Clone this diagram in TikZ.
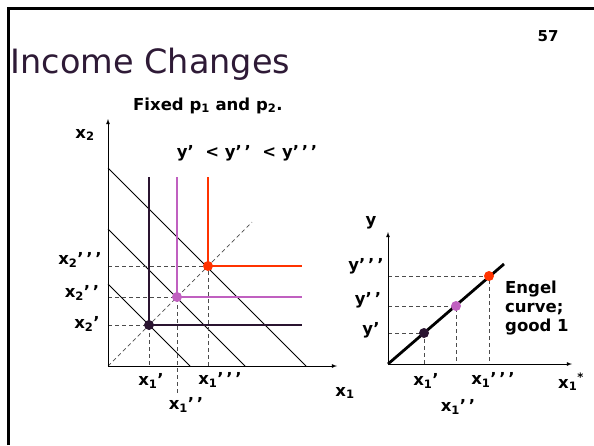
\documentclass[tikz,border=0pt]{standalone}
\usepackage{fontspec}
\setmainfont{DejaVu Sans}
\usetikzlibrary{positioning}
\usepackage{xcolor}
\definecolor{cdark}{HTML}{2A1430}
\definecolor{cpurple}{HTML}{C060C0}
\definecolor{cred}{HTML}{FF3300}
\definecolor{ctitle}{HTML}{2E1A36}

\begin{document}
\begin{tikzpicture}[x=1pt, y=-1pt, >=latex,
  font=\bfseries\fontsize{16.5}{18}\selectfont,
  axis/.style={->, line width=0.8pt},
  budget/.style={line width=0.8pt},
  guide/.style={line width=0.7pt, gray!60!black, dash pattern=on 4pt off 3pt},
  arm/.style={line width=2pt},
  dot/.style={circle, fill, inner sep=0pt, minimum size=10pt},
  lbl/.style={inner sep=0pt}]

\useasboundingbox (0,0) rectangle (594,445);
\draw[line width=3pt] (8,445) -- (8,8) -- (594,8);

\node[anchor=base west, text=ctitle, font=\mdseries\fontsize{33.5}{36}\selectfont] (title) at (7,73) {Income Changes};
\node[lbl, font=\bfseries\fontsize{15}{17}\selectfont] (page) at (548,36) {57};
\node[lbl, anchor=base west] (fixed) at (133,110) {Fixed p\textsubscript{1} and p\textsubscript{2}.};

% left panel: budget lines and demands
\coordinate (o) at (108,366);
\coordinate (ytop) at (108,119);
\coordinate (xend) at (337,366);
\foreach \r in {82,137,198}
  \draw[budget] (108,{366-\r}) -- ({108+\r},366);
\draw[guide] (o) -- (252,222);
\draw[guide] (108,325) -| (149,366);
\draw[guide] (108,297) -| (177,393);
\draw[guide] (108,266) -| (208,366);
\draw[arm, cdark] (149,177) |- (302,325);
\draw[arm, cpurple] (177,177) |- (302,297);
\draw[arm, cred] (208,177) |- (302,266);
\draw[axis] (o) -- (ytop);
\draw[axis] (o) -- (xend);
\node[dot, cdark] (a) at (149,325) {};
\node[dot, cpurple] (b) at (177,297) {};
\node[dot, cred] (c) at (208,266) {};

\node[lbl] (x2) at (85,135) {x\textsubscript{2}};
\node[lbl] (order) at (247,153) {y'\ \ <\ y'\,'\ \ <\ y'\,'\,'};
\node[lbl] (x2c) at (80,260) {x\textsubscript{2}'\,'\,'};
\node[lbl] (x2b) at (82,293) {x\textsubscript{2}'\,'};
\node[lbl] (x2a) at (87,324) {x\textsubscript{2}'};
\node[lbl] (x1a) at (151,381) {x\textsubscript{1}'};
\node[lbl] (x1c) at (220,380) {x\textsubscript{1}'\,'\,'};
\node[lbl] (x1b) at (186,405) {x\textsubscript{1}'\,'};
\node[lbl] (x1) at (345,393) {x\textsubscript{1}};

% right panel: Engel curve
\coordinate (o2) at (388,364);
\coordinate (ytop2) at (388,232);
\coordinate (xend2) at (572,364);
\coordinate (eend) at (504,264);
\draw[guide] (388,333) -| (424,364);
\draw[guide] (388,306) -| (456,364);
\draw[guide] (388,276) -| (489,364);
\draw[axis] (o2) -- (ytop2);
\draw[axis] (o2) -- (xend2);
\draw[line width=2.8pt] (o2) -- (eend);
\node[dot, cdark] (d) at (424,333) {};
\node[dot, cpurple] (e) at (456,306) {};
\node[dot, cred] (f) at (489,276) {};

\node[lbl] (y) at (371,223) {y};
\node[lbl] (yc) at (366,266) {y'\,'\,'};
\node[lbl] (yb) at (368,300) {y'\,'};
\node[lbl] (ya) at (371,330) {y'};
\node[lbl] (r1a) at (426,381) {x\textsubscript{1}'};
\node[lbl] (r1c) at (493,380) {x\textsubscript{1}'\,'\,'};
\node[lbl] (r1b) at (458,407) {x\textsubscript{1}'\,'};
\node[lbl] (r1s) at (571,382) {x\textsubscript{1}\textsuperscript{*}};
\node[lbl, anchor=west, align=left] (engel) at (505,308) {Engel\\[1pt]curve;\\[1pt]good 1};
\end{tikzpicture}
\end{document}
